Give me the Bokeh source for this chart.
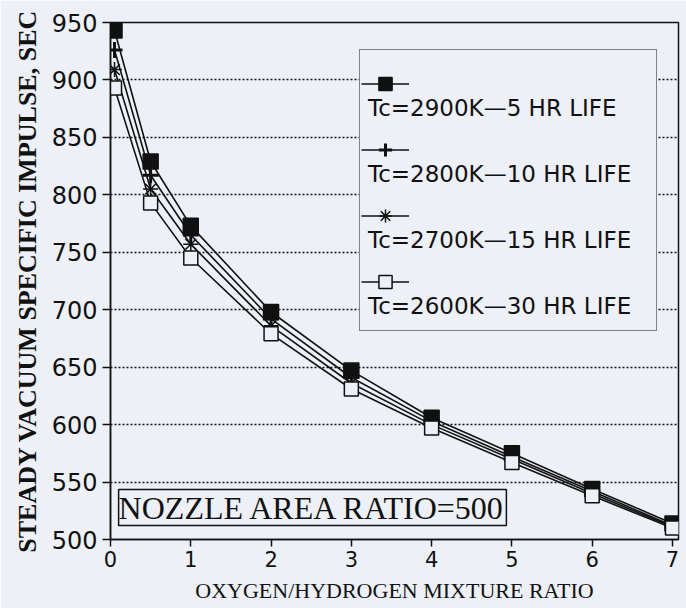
from bokeh.plotting import figure
from bokeh.models import (Legend, LegendItem, Label, FixedTicker, Range1d, ColumnDataSource)
from bokeh.embed import file_html
from bokeh.resources import INLINE

# ---- data ----
mixture_ratio = [0.05, 0.5, 1, 2, 3, 4, 5, 6, 7]
isp_2900K = [943, 829, 773, 698, 647, 606, 575, 544, 514]
isp_2800K = [926, 817, 765, 692, 641, 603, 572, 542, 512]
isp_2700K = [909, 805, 757, 686, 636, 600, 570, 540, 511]
isp_2600K = [893, 793, 745, 679, 631, 597, 567, 538, 510]
series_labels = ["Tc=2900K\u20145 HR LIFE", "Tc=2800K\u201410 HR LIFE",
                 "Tc=2700K\u201415 HR LIFE", "Tc=2600K\u201430 HR LIFE"]
x_ticks = [0, 1, 2, 3, 4, 5, 6, 7]
y_ticks = [500, 550, 600, 650, 700, 750, 800, 850, 900, 950]
note_text = "NOZZLE AREA RATIO=500"

BG = "#edf0f7"
INK = "#111111"

p = figure(width=686, height=608, output_backend="svg", toolbar_location=None,
           x_range=Range1d(0, 7.075), y_range=Range1d(500, 950),
           min_border_left=110, min_border_right=8, min_border_top=22, min_border_bottom=69)
p.background_fill_color = BG
p.border_fill_color = BG
p.outline_line_color = INK
p.outline_line_width = 1.5

# axes
for ax in (p.xaxis[0], p.yaxis[0]):
    ax.axis_line_color = INK
    ax.axis_line_width = 1.5
    ax.major_tick_line_color = INK
    ax.major_tick_line_width = 1.5
    ax.minor_tick_line_color = None
    ax.major_tick_in = 0
    ax.major_label_text_color = INK
    ax.major_label_text_font = "DejaVu Sans"
    ax.axis_label_text_color = INK
    ax.axis_label_text_font = "Liberation Serif"

p.xaxis.ticker = FixedTicker(ticks=x_ticks)
p.yaxis.ticker = FixedTicker(ticks=y_ticks)
p.xaxis.major_tick_out = 7
p.yaxis.major_tick_out = 8
p.xaxis.major_label_text_font_size = "21px"
p.yaxis.major_label_text_font_size = "24px"
p.xaxis.major_label_standoff = 4
p.yaxis.major_label_standoff = 5
p.xaxis.axis_label = "OXYGEN/HYDROGEN MIXTURE RATIO"
p.yaxis.axis_label = "STEADY VACUUM SPECIFIC IMPULSE, SEC"
p.xaxis.axis_label_text_font_size = "22px"
p.xaxis.axis_label_text_font_style = "normal"
p.yaxis.axis_label_text_font_size = "26px"
p.yaxis.axis_label_text_font_style = "bold"
p.xaxis.axis_label_standoff = 8
p.yaxis.axis_label_standoff = 7

p.xgrid.grid_line_color = None
p.ygrid.grid_line_color = INK
p.ygrid.grid_line_width = 1.5
p.ygrid.grid_line_dash = "2 2"

src = ColumnDataSource(dict(x=mixture_ratio, a=isp_2900K, b=isp_2800K, c=isp_2700K, d=isp_2600K))

markers = [
    dict(col="a", marker="square", size=15, fill_color=INK, line_width=1.5),
    dict(col="b", marker="cross", size=16, fill_color=None, line_width=3),
    dict(col="c", marker="asterisk", size=15, fill_color=None, line_width=1.5),
    dict(col="d", marker="square", size=14, fill_color=BG, line_width=1.5),
]

dummy = p.line(x=[], y=[], line_alpha=0)

glyph_items = []
text_items = []
for m, lab in zip(markers, series_labels):
    lr = p.line("x", m["col"], source=src, line_color=INK, line_width=1.6)
    sr = p.scatter("x", m["col"], source=src, marker=m["marker"], size=m["size"],
                   line_color=INK, fill_color=m["fill_color"], line_width=m["line_width"])
    glyph_items.append(LegendItem(label=" ", renderers=[lr, sr]))
    text_items.append(LegendItem(label=" ", renderers=[dummy]))
    text_items.append(LegendItem(label=lab, renderers=[dummy]))

# boxed legend holding the texts (each text sits below its glyph row)
legend_text = Legend(items=text_items, location=(249, 208), orientation="vertical",
                     glyph_width=0, glyph_height=33, label_height=33, label_width=280,
                     label_standoff=0, spacing=0, padding=8, margin=0,
                     label_text_font="DejaVu Sans", label_text_font_size="23px",
                     label_text_color=INK, border_line_color=INK, border_line_width=1.5,
                     background_fill_color=BG, background_fill_alpha=1.0)
# glyph samples drawn over the empty rows
legend_glyph = Legend(items=glyph_items, location=(251, 241), orientation="vertical",
                      glyph_width=48, glyph_height=33, label_height=33,
                      label_standoff=0, spacing=33, padding=8, margin=0,
                      label_text_font_size="10px",
                      border_line_color=None, background_fill_alpha=0.0)
p.add_layout(legend_text, "center")
p.add_layout(legend_glyph, "center")

# nozzle area ratio note with double border
outer = Label(x=202, y=32, x_units="screen", y_units="screen", text=note_text,
              text_align="center", text_baseline="middle",
              text_font="Liberation Serif", text_font_size="32px",
              text_alpha=0.0, padding=4, border_line_color=INK, border_line_width=2,
              background_fill_color=BG)
inner = Label(x=202, y=32, x_units="screen", y_units="screen", text=note_text,
              text_align="center", text_baseline="middle",
              text_font="Liberation Serif", text_font_size="32px",
              text_color=INK, padding=0, border_line_color=INK, border_line_width=1.5,
              background_fill_color=BG)
p.add_layout(outer)
p.add_layout(inner)

open("out.html", "w").write(file_html(p, INLINE))
